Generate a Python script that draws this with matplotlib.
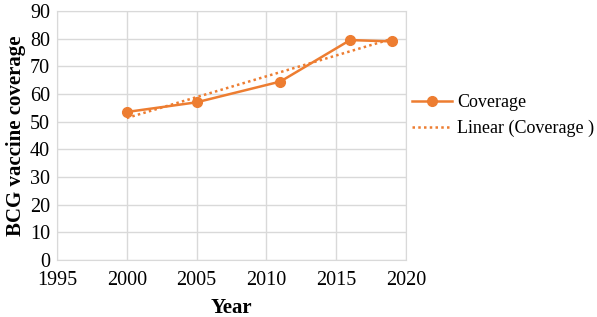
import numpy as np
import matplotlib.pyplot as plt

plt.rcParams['font.family'] = ['Liberation Serif', 'DejaVu Serif']

# dados
years = [2000, 2005, 2011, 2016, 2019]
coverage = [53.5, 57.0, 64.5, 79.5, 79.0]
x_ticks = [1995, 2000, 2005, 2010, 2015, 2020]
y_ticks = [0, 10, 20, 30, 40, 50, 60, 70, 80, 90]

orange = "#ED7D31"
grid_c = "#D9D9D9"

fig = plt.figure(figsize=(5.97, 3.17), dpi=100)
ax = fig.add_axes([57 / 597, 1 - 260 / 317, 349 / 597, 249 / 317])

# serie principal
ax.plot(years, coverage, color=orange, lw=1.8, marker="o", ms=7,
        label="Coverage", zorder=3)

# linha de tendencia linear
a, b = np.polyfit(years, coverage, 1)
xt = np.array([years[0], years[-1]])
ax.plot(xt, a * xt + b, color=orange, lw=1.8, ls=(0, (1, 1.3)),
        label="Linear (Coverage )", zorder=2)

ax.set_xlim(1995, 2020)
ax.set_ylim(0, 90)
ax.set_xticks(x_ticks)
ax.set_yticks(y_ticks)
ax.grid(True, color=grid_c, lw=1)
ax.set_axisbelow(True)
for s in ax.spines.values():
    s.set_color(grid_c)
ax.tick_params(length=0, labelsize=14.5)
ax.tick_params(axis="x", pad=8)
ax.tick_params(axis="y", pad=5)

ax.set_xlabel("Year", fontsize=15, fontweight="bold", labelpad=6)
ax.set_ylabel("BCG vaccine coverage", fontsize=15, fontweight="bold", labelpad=3)

ax.legend(loc="center left", bbox_to_anchor=(0.97, 0.58), frameon=False,
          fontsize=13, handlelength=2.2, handletextpad=0.3, labelspacing=0.5)

fig.savefig("out.png", dpi=100)
